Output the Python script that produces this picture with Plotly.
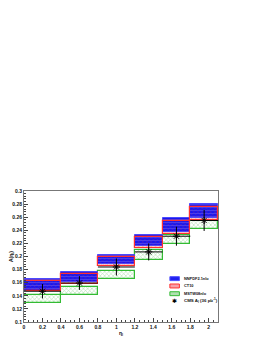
import plotly.graph_objects as go

# bins in eta
bin_lo = [0.0, 0.4, 0.8, 1.2, 1.5, 1.8]
bin_hi = [0.4, 0.8, 1.2, 1.5, 1.8, 2.1]

# theory bands (low, high)
nnpdf_lo = [0.148, 0.161, 0.188, 0.216, 0.238, 0.259]
nnpdf_hi = [0.1655, 0.1758, 0.2030, 0.2335, 0.2585, 0.2797]
ct10_lo = [0.147, 0.158, 0.185, 0.213, 0.235, 0.256]
ct10_hi = [0.163, 0.1735, 0.200, 0.2295, 0.2545, 0.2755]
mstw_lo = [0.1295, 0.1408, 0.1650, 0.1940, 0.2190, 0.2425]
mstw_hi = [0.1410, 0.1540, 0.1780, 0.2100, 0.2330, 0.2535]

# CMS data
cms_x = [0.2, 0.6, 1.0, 1.35, 1.65, 1.95]
cms_y = [0.147, 0.1595, 0.1840, 0.2070, 0.2310, 0.2550]
cms_err = [0.011, 0.0105, 0.013, 0.013, 0.0145, 0.016]

legend_names = ["NNPDF2.1nlo", "CT10", "MSTW08nlo", "CMS A<sub>l</sub> (36 pb<sup>-1</sup>)"]

centers = [(a + b) / 2 for a, b in zip(bin_lo, bin_hi)]
widths = [b - a for a, b in zip(bin_lo, bin_hi)]
halfw = [w / 2 for w in widths]

fig = go.Figure()

fig.add_trace(go.Bar(
    x=centers, y=[h - l for h, l in zip(mstw_hi, mstw_lo)], base=mstw_lo, width=widths,
    name=legend_names[2],
    marker=dict(color="white", line=dict(color="#33bb33", width=1.2),
                pattern=dict(shape="x", fgcolor="#44bb44", bgcolor="white", size=3, solidity=0.3)),
))
fig.add_trace(go.Bar(
    x=centers, y=[h - l for h, l in zip(nnpdf_hi, nnpdf_lo)], base=nnpdf_lo, width=widths,
    name=legend_names[0],
    marker=dict(color="#2a2af5", line=dict(color="#4a4aff", width=1.0),
                pattern=dict(shape="-", fgcolor="#6a6aff", bgcolor="#1818ee", size=3, solidity=0.3)),
))
fig.add_trace(go.Bar(
    x=centers, y=[h - l for h, l in zip(ct10_hi, ct10_lo)], base=ct10_lo, width=widths,
    name=legend_names[1],
    marker=dict(color="rgba(0,0,0,0)", line=dict(color="#ff3030", width=1.2),
                pattern=dict(shape="x", fgcolor="#ee3344", bgcolor="rgba(0,0,0,0)", size=3, solidity=0.2, fillmode="overlay")),
))
fig.add_trace(go.Scatter(
    x=cms_x, y=cms_y, mode="markers",
    name=legend_names[3],
    marker=dict(symbol="asterisk-open", size=6, color="black", line=dict(color="black", width=1)),
    error_y=dict(type="data", array=cms_err, color="black", thickness=1, width=0),
    error_x=dict(type="data", array=halfw, color="black", thickness=1, width=0),
))

axis_font = dict(family="Liberation Sans, Arial", size=5, color="#111", weight="bold")
title_font = dict(family="Liberation Sans, Arial", size=5, color="#111", weight="bold")
leg_font = dict(family="Liberation Sans, Arial", size=3.9, color="#111", weight="bold")

# manual legend (paper coordinates)
leg_x0, leg_x1, leg_tx = 0.752, 0.801, 0.812
leg_rows = [0.331, 0.275, 0.216, 0.163]
box_h = 0.030
box_styles = [
    dict(fill="#2020f0", line="#5050ff"),
    dict(fill="#f6a0a8", line="#ff3030"),
    dict(fill="#b0e0b0", line="#33bb33"),
]
for yc, st in zip(leg_rows[:3], box_styles):
    fig.add_shape(type="rect", xref="paper", yref="paper",
                  x0=leg_x0, x1=leg_x1, y0=yc - box_h / 2, y1=yc + box_h / 2,
                  fillcolor=st["fill"], line=dict(color=st["line"], width=1))
fig.add_annotation(xref="paper", yref="paper", x=(leg_x0 + leg_x1) / 2, y=leg_rows[3],
                   text="✱", showarrow=False, font=dict(family="DejaVu Sans", size=6, color="black"),
                   xanchor="center", yanchor="middle")
for i, (yc, name) in enumerate(zip(leg_rows, legend_names)):
    f = dict(leg_font)
    if i == 3:
        f["size"] = 4.4
    fig.add_annotation(xref="paper", yref="paper", x=leg_tx, y=yc, text=name,
                       showarrow=False, font=f, xanchor="left", yanchor="middle")

fig.update_layout(
    width=262, height=339,
    margin=dict(l=16, r=52, t=183, b=25),
    paper_bgcolor="white", plot_bgcolor="white",
    barmode="overlay",
    bargap=0,
    showlegend=False,
    xaxis=dict(range=[0, 2.1], dtick=0.2, tick0=0, ticks="inside", ticklen=4,
               tickcolor="#444", showgrid=False, zeroline=False, automargin=False,
               showline=True, linecolor="#777", linewidth=1, mirror=True,
               tickfont=axis_font,
               minor=dict(ticks="inside", ticklen=2, dtick=0.05, tickcolor="#444"),
               title=dict(text="η<sub>l</sub>", font=title_font, standoff=2)),
    yaxis=dict(range=[0.1, 0.3], dtick=0.02, tick0=0.1, ticks="inside", ticklen=4,
               tickcolor="#444", showgrid=False, zeroline=False, automargin=False,
               showline=True, linecolor="#777", linewidth=1, mirror=True,
               tickfont=axis_font, tickformat="~g",
               minor=dict(ticks="inside", ticklen=2, dtick=0.004, tickcolor="#444"),
               title=dict(text="A(η<sub>l</sub>)", font=title_font, standoff=3)),
)

fig.write_html("out.html")
